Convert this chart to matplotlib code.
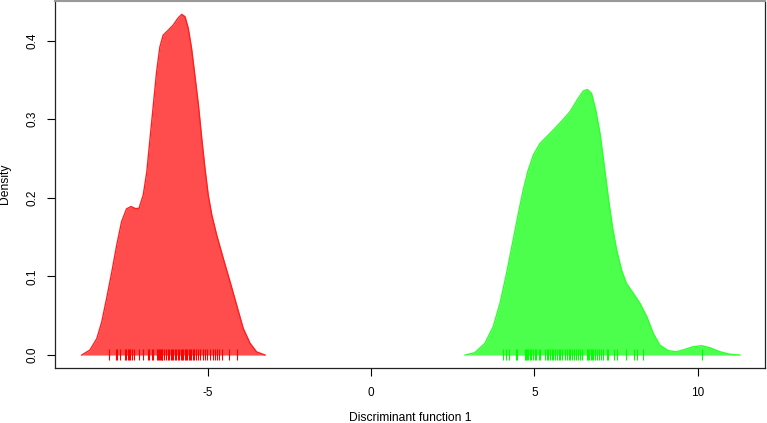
import matplotlib
matplotlib.use("Agg")
import matplotlib.pyplot as plt

plt.rcParams['font.family'] = ['Liberation Sans', 'DejaVu Sans']

# density curve of group 1 (red)
red_x = [-8.85, -8.60, -8.39, -8.24, -8.09, -7.93, -7.78, -7.63, -7.48, -7.34,
         -7.22, -7.10, -6.97, -6.86, -6.76, -6.66, -6.56, -6.46, -6.36, -6.20,
         -6.05, -5.90, -5.79, -5.69, -5.59, -5.49, -5.39, -5.28, -5.18, -5.08,
         -4.98, -4.87, -4.72, -4.52, -4.31, -4.11, -3.91, -3.70, -3.50, -3.24]
red_y = [0.0, 0.0064, 0.021, 0.042, 0.072, 0.106, 0.140, 0.170, 0.186, 0.189,
         0.1865, 0.1865, 0.2035, 0.233, 0.276, 0.318, 0.3605, 0.392, 0.407, 0.4135,
         0.420, 0.429, 0.4335, 0.4305, 0.4155, 0.390, 0.356, 0.318, 0.276, 0.2375,
         0.2035, 0.178, 0.1525, 0.123, 0.093, 0.0635, 0.034, 0.015, 0.004, 0.0]

# density curve of group 2 (green)
green_x = [2.88, 3.18, 3.49, 3.74, 3.95, 4.15, 4.35, 4.51, 4.66, 4.81,
           4.97, 5.17, 5.48, 5.78, 6.09, 6.34, 6.50, 6.62, 6.75, 6.88,
           7.01, 7.13, 7.26, 7.39, 7.52, 7.67, 7.82, 8.03, 8.23, 8.44,
           8.64, 8.84, 9.10, 9.35, 9.61, 9.86, 10.12, 10.37, 10.68, 10.99,
           11.29]
green_y = [0.0, 0.003, 0.015, 0.036, 0.066, 0.104, 0.146, 0.180, 0.210, 0.235,
           0.2545, 0.269, 0.282, 0.295, 0.3095, 0.3265, 0.336, 0.338, 0.333, 0.3115,
           0.282, 0.244, 0.2015, 0.163, 0.1335, 0.108, 0.091, 0.0785, 0.066, 0.049,
           0.0275, 0.0127, 0.0055, 0.0042, 0.0072, 0.0106, 0.0119, 0.0093, 0.0042, 0.001,
           0.0]

# individual discriminant scores (rug)
red_rug = [-8.01, -7.80, -7.76, -7.68, -7.53, -7.49, -7.45, -7.41, -7.36, -7.31,
           -7.25, -7.09, -6.97, -6.82, -6.78, -6.71, -6.66, -6.56, -6.53, -6.50,
           -6.47, -6.44, -6.41, -6.38, -6.34, -6.27, -6.21, -6.17, -6.13, -6.09,
           -6.05, -6.01, -5.97, -5.92, -5.88, -5.82, -5.78, -5.74, -5.70, -5.66,
           -5.62, -5.58, -5.54, -5.50, -5.46, -5.42, -5.35, -5.29, -5.23, -5.15,
           -5.09, -5.01, -4.93, -4.84, -4.77, -4.70, -4.64, -4.56, -4.34, -4.09]
green_rug = [4.05, 4.13, 4.23, 4.44, 4.46, 4.70, 4.74, 4.78, 4.82, 4.87,
             4.91, 4.95, 5.01, 5.05, 5.13, 5.17, 5.33, 5.38, 5.43, 5.48,
             5.53, 5.58, 5.64, 5.68, 5.74, 5.80, 5.86, 5.93, 5.99, 6.05,
             6.09, 6.15, 6.21, 6.27, 6.33, 6.40, 6.46, 6.60, 6.64, 6.68,
             6.72, 6.76, 6.80, 6.87, 6.93, 6.99, 7.05, 7.09, 7.21, 7.27,
             7.44, 7.52, 7.80, 8.05, 8.15, 8.33, 10.12]

x_ticks = [-5, 0, 5, 10]
y_ticks = [0.0, 0.1, 0.2, 0.3, 0.4]

fig = plt.figure(figsize=(7.67, 4.23), dpi=100)
ax = fig.add_axes([0.0717, 0.130, 0.9257, 0.8676])

ax.fill_between(red_x, red_y, color='#ff0000', alpha=0.7, linewidth=0)
ax.plot(red_x, red_y, color='#ff2020', lw=1.0, solid_joinstyle='round')
ax.fill_between(green_x, green_y, color='#00ff00', alpha=0.7, linewidth=0)
ax.plot(green_x, green_y, color='#30ff30', lw=1.0, solid_joinstyle='round')

ax.vlines(red_rug, -0.0064, 0.0076, color='#ff0000', lw=0.8)
ax.vlines(green_rug, -0.0064, 0.0076, color='#00ff00', lw=0.8)

ax.set_xlim(-9.67, 12.06)
ax.set_ylim(-0.0165, 0.4505)
ax.set_xticks(x_ticks)
ax.set_xticklabels(['-5', '0', '5', '10'])
ax.set_yticks(y_ticks)
ax.set_yticklabels(['0.0', '0.1', '0.2', '0.3', '0.4'], rotation=90, va='center')
ax.tick_params(length=6, width=0.8, labelsize=8.5, pad=8)
ax.tick_params(axis='y', pad=6)

for s in ['left', 'bottom', 'right']:
    ax.spines[s].set_color('#222222')
    ax.spines[s].set_linewidth(0.9)
ax.spines['top'].set_color('#999999')
ax.spines['top'].set_linewidth(1.5)

# axis titles placed like R's mtext
fig.text(0.535, 0.012, 'Discriminant function 1', fontsize=8.7, ha='center', va='center')
fig.text(0.007, 0.565, 'Density', fontsize=8.7, ha='center', va='center', rotation=90)

fig.savefig('out.png', dpi=100)
